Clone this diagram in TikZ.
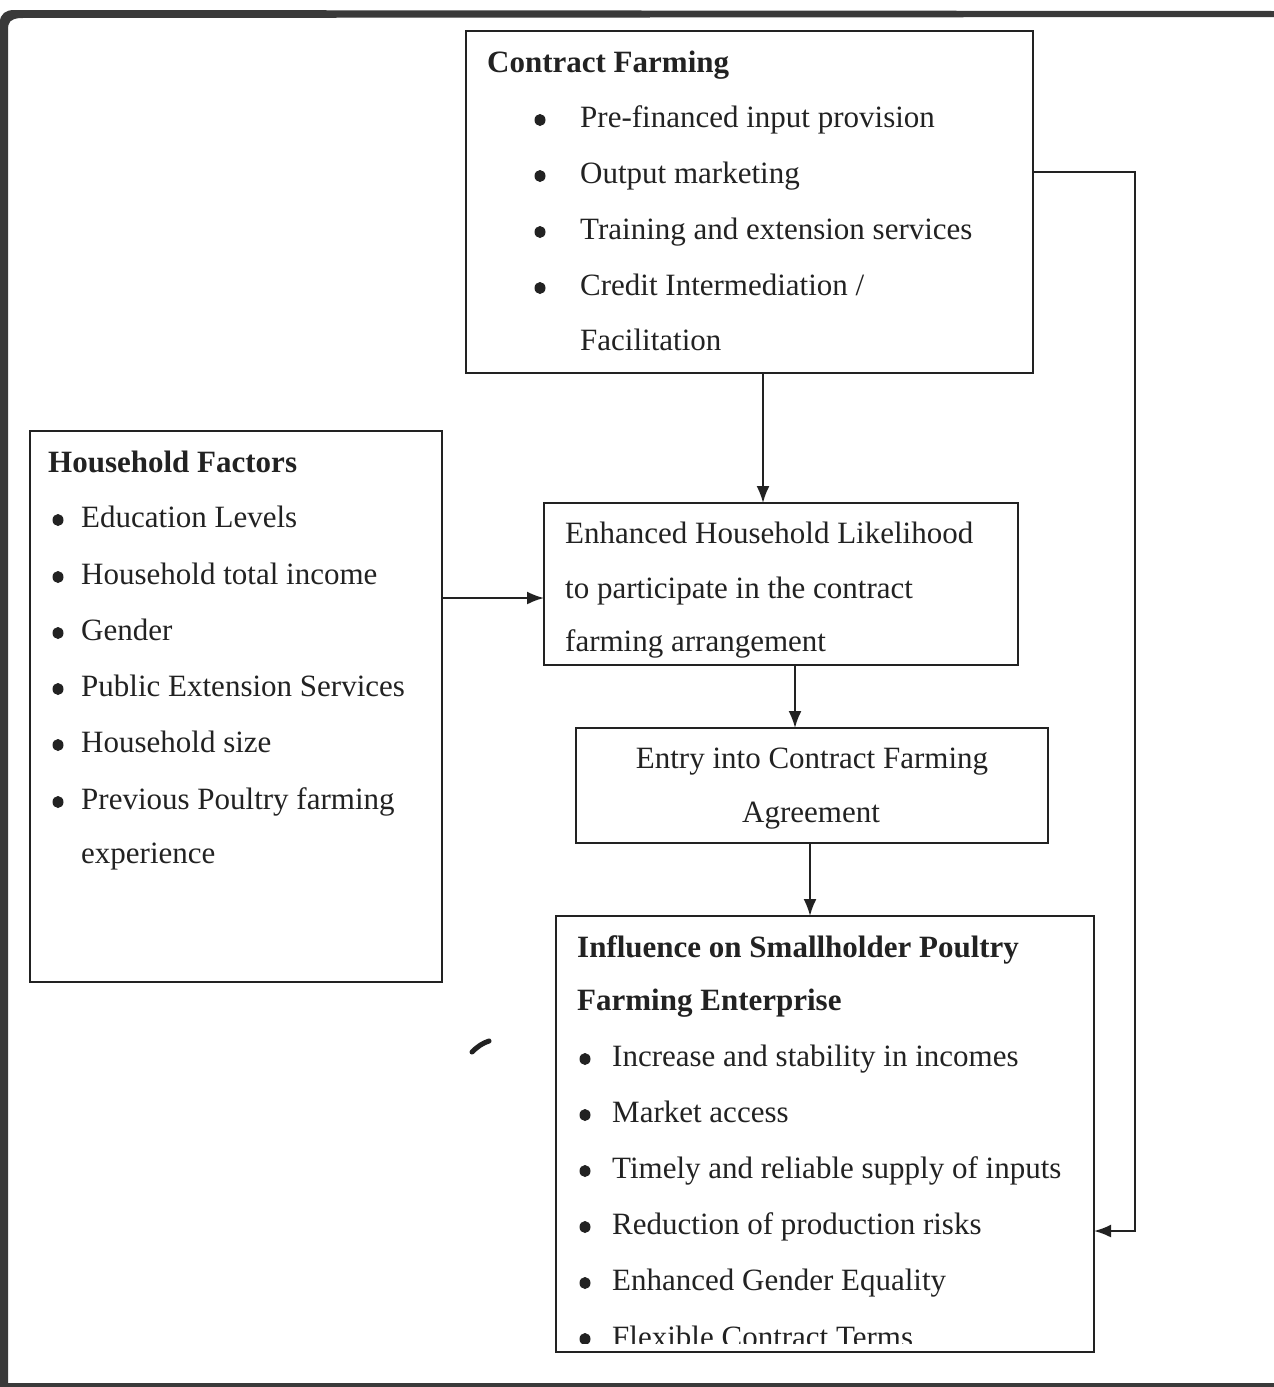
\documentclass[tikz,border=0pt]{standalone}
\usepackage{fontspec}
\setmainfont{Liberation Serif}
\usetikzlibrary{arrows.meta,shapes.geometric}
\definecolor{ink}{HTML}{222222}
\definecolor{frame}{HTML}{3A3A3A}
\begin{document}
\begin{tikzpicture}[x=1pt,y=-1pt,
  box/.style={draw=ink, line width=2pt, inner sep=0pt, outer sep=0pt, fill=none},
  txt/.style={anchor=west, inner sep=0pt, text=ink, font=\fontsize{31}{37}\selectfont, text height=21pt, text depth=7pt},
  hd/.style={txt, font=\fontsize{31}{37}\selectfont\bfseries},
  ctr/.style={txt, anchor=center},
  bul/.style={ellipse, fill=ink, inner sep=0pt, minimum width=11pt, minimum height=12pt},
  arr/.style={draw=ink, line width=2pt, -{Latex[length=17pt,width=13pt]}},
  scanframe/.style={fill=frame, draw=none}]
\useasboundingbox (0,0) rectangle (1274,1387);
\fill[white] (0,0) rectangle (1274,1387);
% scan frame
\fill[scanframe] (14,10) -- (1274,11) -- (1274,17) -- (20,18) .. controls (10,19) and (8,22) .. (8,30) -- (8,1387) -- (0,1387) -- (0,22) .. controls (0,14) and (6,10) .. (14,10) -- cycle;
\fill[scanframe] (0,1383) rectangle (1274,1387);
% boxes
\node[box, minimum width=567pt, minimum height=342pt] (cf) at (749.5,202) {};
\node[box, minimum width=412pt, minimum height=551pt] (hf) at (236,706.5) {};
\node[box, minimum width=474pt, minimum height=162pt] (en) at (781,584) {};
\node[box, minimum width=472pt, minimum height=115pt] (ey) at (812,785.5) {};
\node[box, minimum width=538pt, minimum height=436pt] (inf) at (825,1134) {};
% contract farming text
\node[hd] (cft) at (487,65) {Contract Farming};
\foreach \y/\t [count=\i] in {120/{Pre-financed input provision},176/{Output marketing},232/{Training and extension services},288/{Credit Intermediation /}}{
  \node[bul] (cfb\i) at (540,\y) {};
  \node[txt] (cfl\i) at (580,\y) {\t};
}
\node[txt] (cfl5) at (580,343) {Facilitation};
% household factors
\node[hd] (hft) at (48,465) {Household Factors};
\foreach \y/\t [count=\i] in {520/{Education Levels},577/{Household total income},633/{Gender},689/{Public Extension Services},745/{Household size},802/{Previous Poultry farming}}{
  \node[bul] (hfb\i) at (58,\y) {};
  \node[txt] (hfl\i) at (81,\y) {\t};
}
\node[txt] (hfl7) at (81,856) {experience};
% enhanced
\node[txt] (en1) at (565,536) {Enhanced Household Likelihood};
\node[txt] (en2) at (565,591) {to participate in the contract};
\node[txt] (en3) at (565,644) {farming arrangement};
% entry
\node[ctr] (ey1) at (812,761) {Entry into Contract Farming};
\node[ctr] (ey2) at (811,815) {Agreement};
% influence
\node[hd] (inft1) at (577,950) {Influence on Smallholder Poultry};
\node[hd] (inft2) at (577,1003) {Farming Enterprise};
\foreach \y/\t [count=\i] in {1059/{Increase and stability in incomes},1115/{Market access},1171/{Timely and reliable supply of inputs},1227/{Reduction of production risks},1283/{Enhanced Gender Equality}}{
  \node[bul] (infb\i) at (585,\y) {};
  \node[txt] (infl\i) at (612,\y) {\t};
}
\begin{scope}
  \clip (556,1300) rectangle (1094,1343);
  \node[bul] (infb6) at (585,1339) {};
  \node[txt] (infl6) at (612,1340) {Flexible Contract Terms};
\end{scope}
% connector helper coordinates
\coordinate (a1) at (763,0);
\coordinate (a2) at (0,598);
\coordinate (a3) at (795,0);
\coordinate (a4) at (810,0);
\coordinate (r1) at (1135,172);
\coordinate (r2) at (1135,1231);
% connectors
\draw[arr] (cf.south -| a1) -- (en.north -| a1);
\draw[arr] (hf.east |- a2) -- (en.west |- a2);
\draw[arr] (en.south -| a3) -- (ey.north -| a3);
\draw[arr] (ey.south -| a4) -- (inf.north -| a4);
\draw[arr] (cf.east |- r1) -- (r1) -- (r2) -- (inf.east |- r2);
% scan mark
\draw[ink, line width=5pt, line cap=round] (472,1052) .. controls (478,1046) and (483,1043) .. (489,1041);
\end{tikzpicture}
\end{document}
